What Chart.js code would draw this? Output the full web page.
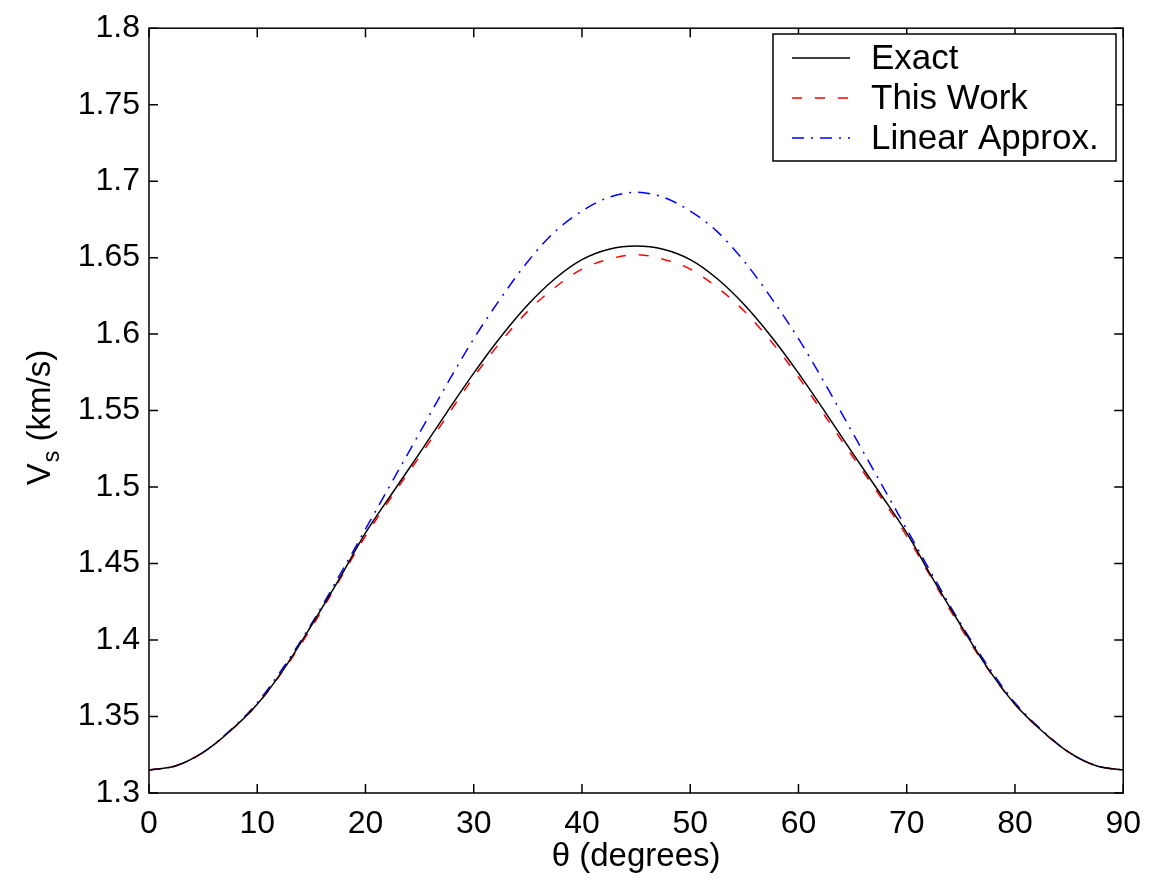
<!DOCTYPE html>
<html>
<head>
<meta charset="utf-8">
<script src="https://cdn.jsdelivr.net/npm/chart.js@4/dist/chart.umd.min.js"></script>
<style>
  body { margin: 0; background: #fff; }
  canvas { display: block; }
</style>
</head>
<body>
<canvas id="grafico" width="1153" height="880"></canvas>
<script>
// Datos (angulo en grados, velocidad en km/s)
const theta = [0, 2.5, 5, 7.5, 10, 12.5, 15, 17.5, 20, 22.5, 25, 27.5, 30, 32.5, 35, 37.5, 40, 42.5, 45,
               47.5, 50, 52.5, 55, 57.5, 60, 62.5, 65, 67.5, 70, 72.5, 75, 77.5, 80, 82.5, 85, 87.5, 90];
const exact = [1.315, 1.3178, 1.3265, 1.3405, 1.358, 1.3815, 1.4095, 1.439, 1.470, 1.4963, 1.5222, 1.5487,
               1.5745, 1.5983, 1.6192, 1.6362, 1.6487, 1.6555, 1.6576,
               1.6555, 1.6487, 1.6362, 1.6192, 1.5983, 1.5745, 1.5487, 1.5222, 1.4963, 1.470, 1.439,
               1.4095, 1.3815, 1.358, 1.3405, 1.3265, 1.3178, 1.315];
const thisWork = [1.315, 1.3178, 1.3265, 1.3405, 1.358, 1.381, 1.408, 1.438, 1.468, 1.4945, 1.520, 1.546,
                  1.572, 1.5950, 1.6150, 1.6305, 1.6425, 1.649, 1.652,
                  1.649, 1.6425, 1.6305, 1.6150, 1.5950, 1.572, 1.546, 1.520, 1.4945, 1.468, 1.438,
                  1.408, 1.381, 1.358, 1.3405, 1.3265, 1.3178, 1.315];
const linearApprox = [1.315, 1.3178, 1.3265, 1.341, 1.359, 1.383, 1.4105, 1.441, 1.4725, 1.504, 1.5355, 1.567,
                      1.597, 1.6235, 1.6475, 1.667, 1.6805, 1.6895, 1.6927,
                      1.6895, 1.6805, 1.667, 1.6475, 1.6235, 1.597, 1.567, 1.5355, 1.504, 1.4725, 1.441,
                      1.4105, 1.383, 1.359, 1.341, 1.3265, 1.3178, 1.315];

const seriesNames = ['Exact', 'This Work', 'Linear Approx.'];
const xTicks = [0, 10, 20, 30, 40, 50, 60, 70, 80, 90];
const yTicks = [1.3, 1.35, 1.4, 1.45, 1.5, 1.55, 1.6, 1.65, 1.7, 1.75, 1.8];
const yTickLabels = ['1.3', '1.35', '1.4', '1.45', '1.5', '1.55', '1.6', '1.65', '1.7', '1.75', '1.8'];

const fuente = '"Liberation Sans", Arial, Helvetica, sans-serif';

const puntos = (ys) => theta.map((t, i) => ({ x: t, y: ys[i] }));

// Marco, ticks hacia adentro, titulos de ejes y leyenda
const marcoPlugin = {
    id: 'marco',
    afterDraw(chart) {
        const ctx = chart.ctx;
        const a = chart.chartArea;
        const xs = chart.scales.x;
        const ys = chart.scales.y;
        const largo = 9;
        ctx.save();
        ctx.strokeStyle = '#000';
        ctx.lineWidth = 1.5;
        ctx.strokeRect(a.left, a.top, a.right - a.left, a.bottom - a.top);
        ctx.beginPath();
        xTicks.forEach(v => {
            const px = xs.getPixelForValue(v);
            ctx.moveTo(px, a.bottom); ctx.lineTo(px, a.bottom - largo);
            ctx.moveTo(px, a.top); ctx.lineTo(px, a.top + largo);
        });
        yTicks.forEach(v => {
            const py = ys.getPixelForValue(v);
            ctx.moveTo(a.left, py); ctx.lineTo(a.left + largo, py);
            ctx.moveTo(a.right, py); ctx.lineTo(a.right - largo, py);
        });
        ctx.stroke();

        // titulo eje x
        ctx.fillStyle = '#000';
        ctx.font = '33px ' + fuente;
        ctx.textAlign = 'center';
        ctx.textBaseline = 'middle';
        ctx.fillText('\u03B8 (degrees)', (a.left + a.right) / 2, 857);

        // titulo eje y con subindice
        ctx.save();
        ctx.translate(38, 418);
        ctx.rotate(-Math.PI / 2);
        ctx.textAlign = 'left';
        ctx.textBaseline = 'alphabetic';
        const fuenteGrande = '33px ' + fuente;
        const fuenteChica = '23px ' + fuente;
        ctx.font = fuenteGrande;
        const wV = ctx.measureText('V').width;
        ctx.font = fuenteChica;
        const wS = ctx.measureText('s').width;
        ctx.font = fuenteGrande;
        const wR = ctx.measureText(' (km/s)').width;
        let x0 = -(wV + wS + wR) / 2;
        const base = 12;
        ctx.fillText('V', x0, base);
        ctx.font = fuenteChica;
        ctx.fillText('s', x0 + wV + 1, base + 9);
        ctx.font = fuenteGrande;
        ctx.fillText(' (km/s)', x0 + wV + wS + 1, base);
        ctx.restore();

        // leyenda
        const caja = { left: 773, top: 34, right: 1116, bottom: 161 };
        ctx.fillStyle = '#fff';
        ctx.fillRect(caja.left, caja.top, caja.right - caja.left, caja.bottom - caja.top);
        ctx.strokeStyle = '#000';
        ctx.lineWidth = 1.5;
        ctx.strokeRect(caja.left, caja.top, caja.right - caja.left, caja.bottom - caja.top);
        chart.data.datasets.forEach((ds, i) => {
            const yRow = 58 + i * 40;
            ctx.beginPath();
            ctx.strokeStyle = ds.borderColor;
            ctx.lineWidth = ds.borderWidth;
            ctx.setLineDash(ds.borderDash || []);
            ctx.moveTo(792, yRow);
            ctx.lineTo(850, yRow);
            ctx.stroke();
            ctx.setLineDash([]);
            ctx.fillStyle = '#000';
            ctx.font = '35px ' + fuente;
            ctx.textAlign = 'left';
            ctx.textBaseline = 'middle';
            ctx.fillText(ds.label, 871, yRow + 1);
        });
        ctx.restore();
    }
};

new Chart(document.getElementById('grafico'), {
    type: 'line',
    data: {
        datasets: [
            {
                label: seriesNames[0],
                data: puntos(exact),
                borderColor: '#000000',
                borderWidth: 1.5,
                pointRadius: 0,
                cubicInterpolationMode: 'monotone',
                fill: false
            },
            {
                label: seriesNames[1],
                data: puntos(thisWork),
                borderColor: '#ff0000',
                borderWidth: 1.5,
                borderDash: [10, 13],
                pointRadius: 0,
                cubicInterpolationMode: 'monotone',
                fill: false
            },
            {
                label: seriesNames[2],
                data: puntos(linearApprox),
                borderColor: '#0000ff',
                borderWidth: 1.5,
                borderDash: [12, 7, 2, 7],
                pointRadius: 0,
                cubicInterpolationMode: 'monotone',
                fill: false
            }
        ]
    },
    options: {
        responsive: false,
        animation: false,
        devicePixelRatio: 1,
        layout: { padding: { left: 0, right: 26, top: 23, bottom: 0 } },
        plugins: {
            legend: { display: false },
            tooltip: { enabled: false }
        },
        scales: {
            x: {
                type: 'linear',
                min: 0,
                max: 90,
                afterBuildTicks: (scale) => { scale.ticks = xTicks.map(v => ({ value: v })); },
                afterFit: (scale) => { scale.height = 87; },
                grid: { display: false, drawTicks: false },
                border: { display: false },
                ticks: {
                    color: '#000',
                    font: { family: fuente, size: 32 },
                    padding: 12,
                    maxRotation: 0,
                    callback: (v) => String(v)
                }
            },
            y: {
                type: 'linear',
                min: 1.3,
                max: 1.8,
                afterBuildTicks: (scale) => { scale.ticks = yTicks.map(v => ({ value: v })); },
                afterFit: (scale) => { scale.width = 149; },
                grid: { display: false, drawTicks: false },
                border: { display: false },
                ticks: {
                    color: '#000',
                    font: { family: fuente, size: 32 },
                    padding: 9,
                    callback: (v, i) => yTickLabels[i]
                }
            }
        }
    },
    plugins: [marcoPlugin]
});
</script>
</body>
</html>
